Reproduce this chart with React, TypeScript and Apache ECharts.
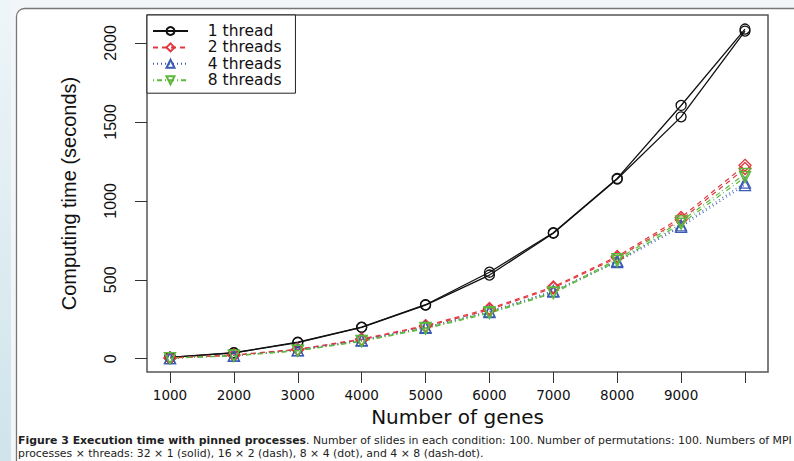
import React, { useEffect, useRef } from "react";
import * as echarts from "echarts";

const genes = [1000, 2000, 3000, 4000, 5000, 6000, 7000, 8000, 9000, 10000];
const xTickValues = [1000, 2000, 3000, 4000, 5000, 6000, 7000, 8000, 9000, 10000];
const xLabelValues = [1000, 2000, 3000, 4000, 5000, 6000, 7000, 8000, 9000];
const yTickValues = [0, 500, 1000, 1500, 2000];
const legendNames = ["1 thread", "2 threads", "4 threads", "8 threads"];

const oneThreadRunA = [8, 38, 105, 200, 342, 548, 798, 1142, 1604, 2088];
const oneThreadRunB = [8, 37, 102, 198, 340, 530, 795, 1138, 1532, 2075];
const twoThreadsRunA = [5, 24, 60, 125, 210, 318, 455, 648, 895, 1225];
const twoThreadsRunB = [5, 22, 58, 120, 205, 310, 448, 640, 880, 1205];
const fourThreadsRunA = [4, 20, 55, 118, 200, 300, 430, 620, 845, 1115];
const fourThreadsRunB = [4, 19, 53, 115, 196, 296, 425, 612, 835, 1100];
const eightThreadsRunA = [4, 20, 52, 113, 195, 295, 420, 630, 870, 1170];
const eightThreadsRunB = [4, 18, 50, 110, 190, 288, 415, 618, 855, 1150];

const captionBold = "Figure 3 Execution time with pinned processes";
const captionLine1 =
  ". Number of slides in each condition: 100. Number of permutations: 100. Numbers of MPI";
const captionLine2 =
  "processes \u00d7 threads: 32 \u00d7 1 (solid), 16 \u00d7 2 (dash), 8 \u00d7 4 (dot), and 4 \u00d7 8 (dash-dot).";

type Cfg = {
  name: string;
  runs: number[][];
  color: string;
  symbol: string;
  size: number;
  rotate: number;
  dash: any;
  width: number;
};

const configs: Cfg[] = [
  { name: legendNames[0], runs: [oneThreadRunA, oneThreadRunB], color: "#111111", symbol: "circle", size: 10, rotate: 0, dash: "solid", width: 1.3 },
  { name: legendNames[1], runs: [twoThreadsRunA, twoThreadsRunB], color: "#e2383f", symbol: "diamond", size: 12, rotate: 0, dash: [5, 4], width: 1.2 },
  { name: legendNames[2], runs: [fourThreadsRunA, fourThreadsRunB], color: "#3b5bb5", symbol: "triangle", size: 11, rotate: 0, dash: [1, 3], width: 1.2 },
  { name: legendNames[3], runs: [eightThreadsRunA, eightThreadsRunB], color: "#5bb83b", symbol: "triangle", size: 11, rotate: 180, dash: [1, 3, 5, 3], width: 1.2 },
];

export default function App() {
  const ref = useRef<HTMLDivElement>(null);
  useEffect(() => {
    if (!ref.current) return;
    const chart = echarts.init(ref.current, undefined, { renderer: "svg" });
    const series: any[] = [];
    configs.forEach((c) => {
      c.runs.forEach((run) => {
        series.push({
          type: "line",
          name: c.name,
          data: genes.map((g, i) => [g, run[i]]),
          symbol: c.symbol,
          symbolSize: c.size,
          symbolRotate: c.rotate,
          showAllSymbol: true,
          itemStyle: { color: "rgba(255,255,255,0)", borderColor: c.color, borderWidth: 1.3 },
          lineStyle: { color: c.color, width: c.width, type: c.dash },
          emphasis: { disabled: true },
        });
      });
    });
    chart.setOption({
      animation: false,
      backgroundColor: "#f2f6f8",
      grid: {
        left: 147,
        top: 15,
        right: 26,
        bottom: 89,
        show: true,
        borderColor: "#555",
        borderWidth: 1.5,
        backgroundColor: "rgba(0,0,0,0)",
      },
      xAxis: {
        type: "value",
        min: 640,
        max: 10360,
        axisLine: { show: false, onZero: false },
        splitLine: { show: false },
        axisTick: { show: true, customValues: xTickValues, length: 11, lineStyle: { color: "#333", width: 1 } },
        axisLabel: {
          customValues: xLabelValues,
          formatter: (v: number) => String(v),
          fontSize: 13.5,
          fontFamily: "DejaVu Sans",
          color: "#111",
          margin: 16,
        },
        name: "Number of genes",
        nameLocation: "middle",
        nameGap: 31,
        nameTextStyle: { fontSize: 20, fontFamily: "DejaVu Sans", color: "#111" },
      },
      yAxis: {
        type: "value",
        min: -84,
        max: 2177,
        axisLine: { show: false, onZero: false },
        splitLine: { show: false },
        axisTick: { show: true, customValues: yTickValues, length: 12, lineStyle: { color: "#333", width: 1 } },
        axisLabel: {
          customValues: yTickValues,
          formatter: (v: number) => String(v),
          rotate: 90,
          fontSize: 16,
          fontFamily: "Liberation Sans",
          color: "#111",
          margin: 29,
        },
        name: "Computing time (seconds)",
        nameLocation: "middle",
        nameGap: 68,
        nameTextStyle: { fontSize: 20, fontFamily: "Liberation Sans", color: "#111" },
      },
      legend: {
        left: 147,
        top: 15,
        orient: "vertical",
        data: legendNames,
        selectedMode: false,
        backgroundColor: "#fff",
        borderColor: "#222",
        borderWidth: 1,
        borderRadius: 0,
        padding: [8, 14, 5, 5],
        itemWidth: 35,
        itemHeight: 10,
        itemGap: 0.4,
        formatter: (name: string) => "\u00a0\u00a0\u00a0" + name,
        textStyle: {
          fontSize: 15.5,
          fontFamily: "DejaVu Sans",
          color: "#111",
          lineHeight: 15,
        },
      },
      graphic: [
        {
          type: "rect",
          z: -10,
          shape: { x: 0, y: 0, width: 11, height: 461 },
          style: {
            fill: new echarts.graphic.LinearGradient(0, 0, 0, 1, [
              { offset: 0, color: "#eef5f8" },
              { offset: 1, color: "#cfe4eb" },
            ]),
          },
        },
        {
          type: "rect",
          z: -9,
          shape: { x: 16.5, y: 8.5, width: 800, height: 480, r: [8, 0, 0, 0] },
          style: { fill: "#ffffff", stroke: "#777", lineWidth: 1.3 },
        },
        {
          type: "text",
          z: 10,
          x: 18,
          y: 434,
          style: {
            text: "{b|" + captionBold + "}" + captionLine1 + "\n" + captionLine2,
            fontSize: 10.9,
            fontFamily: "DejaVu Sans",
            fill: "#222",
            lineHeight: 13,
            rich: {
              b: { fontSize: 10.9, fontFamily: "DejaVu Sans", fontWeight: "bold", fill: "#222", lineHeight: 13 },
            },
          },
        },
      ],
      series,
    });
    return () => chart.dispose();
  }, []);
  return (
    <div
      ref={ref}
      style={{ position: "fixed", left: 0, top: 0, width: 794, height: 461 }}
    />
  );
}
